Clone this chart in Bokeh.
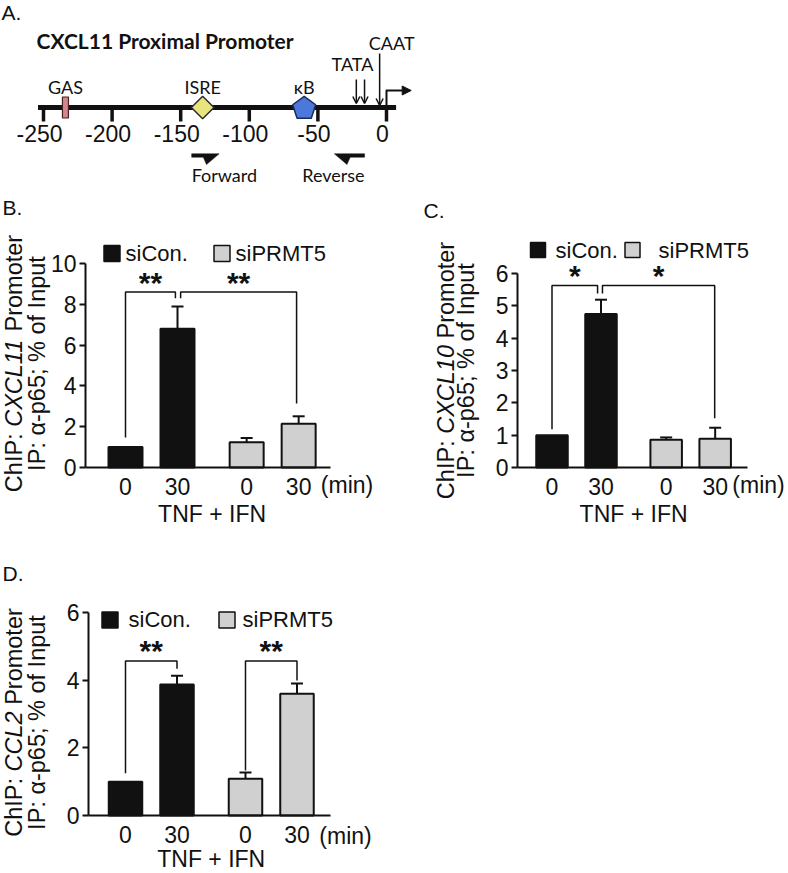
from math import pi, cos, sin
from bokeh.plotting import figure
from bokeh.models import (Range1d, FixedTicker, Label, ColumnDataSource, Whisker,
                          TeeHead, Arrow, OpenHead, NormalHead)
from bokeh.layouts import column, row
from bokeh.core.properties import value
from bokeh.embed import file_html
from bokeh.resources import INLINE

# ---------------- data ----------------
# Panel A: CXCL11 proximal promoter map (positions in bp relative to TSS)
promoter_ticks = [-250, -200, -150, -100, -50, 0]
promoter_tick_labels = ["-250", "-200", "-150", "-100", "-50", "0"]
promoter_extent = [-254, 7]
site_names = ["GAS", "ISRE", "κB"]
site_pos = [-234, -134, -60]
tata_pos = [-22, -16]
caat_pos = [-5]
tss_pos = 0
tss_arrow_end = 18
forward_primer = [-142, -122]
reverse_primer = [-38, -16]

# Panels B-D: ChIP alpha-p65
groups = ["siCon.", "siPRMT5"]
time_labels = ["0", "30", "0", "30"]
x_sicon = [1.0, 2.0]
x_siprmt5 = [3.33, 4.33]

b_sicon = [1.0, 6.80]
b_sicon_err = [0.0, 1.09]
b_siprmt5 = [1.24, 2.14]
b_siprmt5_err = [0.21, 0.37]
b_yticks = [0, 2, 4, 6, 8, 10]
# (x_left, y_left_end, x_right, y_right_end, y_top, label)
b_brackets = [(1.0, 1.47, 1.96, 8.30, 8.60, "**"),
              (2.06, 8.30, 4.29, 3.14, 8.60, "**")]

c_sicon = [1.0, 4.75]
c_sicon_err = [0.0, 0.44]
c_siprmt5 = [0.86, 0.89]
c_siprmt5_err = [0.07, 0.34]
c_yticks = [0, 1, 2, 3, 4, 5, 6]
c_brackets = [(1.0, 1.18, 1.93, 5.38, 5.63, "*"),
              (2.03, 5.38, 4.32, 1.52, 5.63, "*")]

d_sicon = [1.0, 3.87]
d_sicon_err = [0.0, 0.26]
d_siprmt5 = [1.09, 3.60]
d_siprmt5_err = [0.18, 0.30]
d_yticks = [0, 2, 4, 6]
d_brackets = [(1.0, 1.25, 2.0, 4.34, 4.57, "**"),
              (3.33, 1.33, 4.33, 3.99, 4.57, "**")]

# ---------------- style ----------------
FONT = "Liberation Sans"
DFONT = "Lato"
GRAY = "#d0d0d0"
INK = "#111111"

AW = {'C': 722, 'h': 556, 'I': 278, 'P': 667, ':': 278, ' ': 278, 'X': 667, 'L': 556,
      '1': 556, '0': 556, '2': 556, 'r': 333, 'o': 556, 'm': 833, 't': 278, 'e': 556,
      'α': 578, '-': 333, 'p': 556, '6': 556, '5': 556, ';': 278, '%': 889, 'f': 278,
      'n': 556, 'u': 556}


def text_w(s, fs):
    return sum(AW.get(ch, 556) for ch in s) * fs / 1000.0


# ---------------- panel A ----------------
A_ORIGIN = 386.0
A_SCALE = 1.372


def bpx(rx):
    return (rx - A_ORIGIN) / A_SCALE


LY = 107
pA = figure(width=788, height=190, x_range=Range1d(bpx(0), bpx(788)),
            y_range=Range1d(190, 0), x_axis_type=None, y_axis_type=None,
            min_border=0, output_backend="svg", toolbar_location=None, title=None)
pA.outline_line_color = None

pA.segment(x0=[promoter_extent[0]], y0=[LY], x1=[promoter_extent[1]], y1=[LY],
           line_width=5, line_color=INK)
pA.segment(x0=promoter_ticks, y0=[LY] * len(promoter_ticks), x1=promoter_ticks,
           y1=[121] * len(promoter_ticks), line_width=3.5, line_color=INK)
pA.text(x=promoter_ticks, y=[133] * len(promoter_ticks), text=promoter_tick_labels,
        text_align="center", text_baseline="middle", text_font=value(FONT),
        text_font_size="23px", text_color=INK, x_offset=-4)

# GAS
pA.rect(x=[site_pos[0]], y=[LY], width=6, height=21, width_units="screen",
        height_units="screen", fill_color="#d4868c", line_color="#4a2020", line_width=1.2)
# ISRE
pA.scatter(x=[site_pos[1]], y=[LY], marker="square", angle=pi / 4, size=16,
           fill_color="#e9e57c", line_color="#2b2b2b", line_width=1.5)
# kB pentagon
r_pent = 12.1
pent_x = [site_pos[2] + r_pent * cos(-pi / 2 + 2 * pi * i / 5) / A_SCALE for i in range(5)]
pent_y = [LY + 1 + r_pent * sin(-pi / 2 + 2 * pi * i / 5) for i in range(5)]
pA.patch(pent_x, pent_y, fill_color="#4b78da", line_color="#1b2a55", line_width=1.5)

pA.text(x=site_pos, y=[86] * 3, text=site_names, text_align="center",
        text_baseline="middle", text_font=value(DFONT), text_font_size="18px",
        text_color=INK)

# TATA / CAAT arrows
arr_src = ColumnDataSource(dict(xs=tata_pos + caat_pos, ys=[79, 79, 53],
                                xe=tata_pos + caat_pos, ye=[103, 103, 105]))
pA.add_layout(Arrow(end=OpenHead(size=7, line_width=1.5, line_color=INK),
                    x_start="xs", y_start="ys", x_end="xe", y_end="ye",
                    source=arr_src, line_width=1.5, line_color=INK))
pA.text(x=[sum(tata_pos) / len(tata_pos)], y=[63], text=["TATA"], x_offset=-8,
        text_align="center", text_baseline="middle", text_font=value(DFONT),
        text_font_size="18px", text_color=INK)
pA.text(x=caat_pos, y=[42], text=["CAAT"], x_offset=12,
        text_align="center", text_baseline="middle", text_font=value(DFONT),
        text_font_size="18px", text_color=INK)

# TSS bent arrow
pA.segment(x0=[tss_pos], y0=[LY], x1=[tss_pos], y1=[90], line_width=2, line_color=INK)
pA.add_layout(Arrow(end=NormalHead(size=9, fill_color=INK, line_color=INK),
                    x_start=tss_pos - 0.5, y_start=90, x_end=tss_arrow_end, y_end=90,
                    line_width=2, line_color=INK))

# primers
k = 1.0 / A_SCALE
fs_, fe_ = forward_primer
rs_, re_ = reverse_primer
fxs = [fs_, fe_, fe_ - 12.6 * k, fe_ - 15.8 * k, fs_]
fys = [153.3, 153.3, 164, 156.7, 156.7]
rxs = [rs_, re_, re_, rs_ + 15.8 * k, rs_ + 12.6 * k]
rys = [153.3, 153.3, 156.7, 156.7, 164]
pA.patches(xs=[fxs, rxs], ys=[fys, rys], fill_color=INK, line_color=INK, line_width=0.5)
pA.text(x=[forward_primer[0]], y=[174], text=["Forward"], text_align="left",
        text_baseline="middle", text_font=value(DFONT), text_font_size="18px",
        text_color=INK)
pA.text(x=[reverse_primer[1]], y=[174], text=["Reverse"], text_align="right",
        text_baseline="middle", text_font=value(DFONT), text_font_size="18px",
        text_color=INK)

pA.add_layout(Label(x=bpx(36), y=40, text="CXCL11 Proximal Promoter",
                    text_font=DFONT, text_font_style="bold", text_font_size="21px",
                    text_baseline="middle", text_color=INK))
pA.add_layout(Label(x=bpx(1), y=12, text="A.", text_font=FONT, text_font_size="21px",
                    text_baseline="middle", text_color=INK))


# ---------------- bar panels ----------------
def bar_panel(G, sicon, sicon_err, siprmt5, siprmt5_err, yticks, brackets, gene, letter):
    ox, oy = G["origin"]

    def xd(rx):
        return 1 + (rx - G["x1"]) / G["xs"]

    def yd(ry):
        return (G["y0"] - ry) / G["ys"]

    p = figure(width=G["w"], height=G["h"],
               x_range=Range1d(xd(ox), xd(ox + G["w"])),
               y_range=Range1d(yd(oy + G["h"]), yd(oy)),
               min_border=0, output_backend="svg", toolbar_location=None, title=None)
    p.outline_line_color = None
    p.xgrid.visible = False
    p.ygrid.visible = False

    yax = p.yaxis[0]
    yax.fixed_location = xd(G["axis_x"])
    yax.ticker = FixedTicker(ticks=yticks)
    yax.bounds = (0, yticks[-1])
    yax.axis_line_width = 2
    yax.axis_line_color = INK
    yax.major_tick_line_width = 2
    yax.major_tick_line_color = INK
    yax.major_tick_out = 6
    yax.major_tick_in = 0
    yax.minor_tick_out = 0
    yax.minor_tick_in = 0
    yax.major_label_standoff = 3
    yax.major_label_text_font = FONT
    yax.major_label_text_font_size = "23px"
    yax.major_label_text_color = INK

    xs_all = x_sicon + x_siprmt5
    xax = p.xaxis[0]
    xax.fixed_location = 0
    xax.ticker = FixedTicker(ticks=xs_all)
    xax.major_label_overrides = {x: t for x, t in zip(xs_all, time_labels)}
    xax.bounds = (xd(G["axis_x"]), xd(G["axis_end"]))
    xax.axis_line_width = 2
    xax.axis_line_color = INK
    xax.major_tick_out = 0
    xax.major_tick_in = 0
    xax.minor_tick_out = 0
    xax.minor_tick_in = 0
    xax.major_label_standoff = 10
    xax.major_label_text_font = FONT
    xax.major_label_text_font_size = "23px"
    xax.major_label_text_color = INK

    bw = (G["bar_px"] - 2) / G["xs"]
    s1 = ColumnDataSource(dict(x=x_sicon, top=sicon))
    s2 = ColumnDataSource(dict(x=x_siprmt5, top=siprmt5))
    p.vbar(x="x", top="top", width=bw, source=s1, fill_color=INK, line_color=INK,
           line_width=2)
    p.vbar(x="x", top="top", width=bw, source=s2, fill_color=GRAY, line_color=INK,
           line_width=2)

    base, lo, up = [], [], []
    for x, t, e in zip(xs_all, sicon + siprmt5, sicon_err + siprmt5_err):
        if e > 0:
            base.append(x)
            lo.append(t)
            up.append(t + e)
    p.add_layout(Whisker(source=ColumnDataSource(dict(base=base, lower=lo, upper=up)),
                         base="base", lower="lower", upper="upper", dimension="height",
                         line_width=2, line_color=INK, lower_head=None,
                         upper_head=TeeHead(size=12, line_width=2, line_color=INK)))

    p.multi_line(xs=[[b[0], b[0], b[2], b[2]] for b in brackets],
                 ys=[[b[1], b[4], b[4], b[3]] for b in brackets],
                 line_color=INK, line_width=1.5)
    p.text(x=[(b[0] + b[2]) / 2 for b in brackets], y=[b[4] for b in brackets],
           text=[b[5] for b in brackets], text_align="center",
           text_baseline="alphabetic", text_font=value(FONT), text_font_size="30px",
           text_font_style="bold", y_offset=-10, text_color=INK)

    # legend
    L = G["legend"]
    p.scatter(x=[xd(L["sq"][0][0]), xd(L["sq"][1][0])],
              y=[yd(L["sq"][0][1]), yd(L["sq"][1][1])], marker="square", size=L["size"],
              fill_color=[INK, GRAY], line_color=INK, line_width=1.5)
    p.text(x=[xd(L["tx"][0]), xd(L["tx"][1])], y=[yd(L["ty"])] * 2, text=groups,
           text_align="left", text_baseline="middle", text_font=value(FONT),
           text_font_size="22px", text_color=INK)

    # unit and treatment labels
    p.add_layout(Label(x=xd(G["min_x"]), y=yd(G["tick_mid"]), text="(min)",
                       text_align="center", text_baseline="middle", text_font=FONT,
                       text_font_size="23px", text_color=INK))
    p.add_layout(Label(x=(x_sicon[0] + x_siprmt5[-1]) / 2, y=yd(G["tnf_mid"]),
                       text="TNF + IFN", text_align="center", text_baseline="middle",
                       text_font=FONT, text_font_size="23px", text_color=INK))
    p.add_layout(Label(x=xd(G["letter"][0]), y=yd(G["letter"][1]), text=letter,
                       text_align="left", text_baseline="middle", text_font=FONT,
                       text_font_size="21px", text_color=INK))

    # rotated two-line y label
    fs = G["ylab_fs"]
    lines = [(G["ylab_x"][0], [("ChIP:", "normal", "ChIP: "), (gene, "italic", gene + " "),
                               ("Promoter", "normal", "Promoter")]),
             (G["ylab_x"][1], [("IP: α-p65; % of Input", "normal", "IP: α-p65; % of Input")])]
    for cx, parts in lines:
        total = sum(text_w(a, fs) for _, _, a in parts)
        ry = G["ylab_cy"] + total / 2
        for t, st, a in parts:
            p.add_layout(Label(x=xd(cx), y=yd(ry), text=t, angle=pi / 2,
                               text_align="left", text_baseline="middle", text_font=FONT,
                               text_font_size=f"{fs}px", text_font_style=st,
                               text_color=INK))
            ry -= text_w(a, fs)
    return p


GB = dict(origin=(0, 190), w=420, h=350, axis_x=85,
          y0=467, ys=20.4, x1=125, xs=52, axis_end=330, bar_px=36,
          legend=dict(sq=[(111.5, 253), (221.5, 253)], size=16, tx=[125, 235], ty=253),
          min_x=346.5, tick_mid=484.5, tnf_mid=513.5, letter=(2, 207),
          ylab_x=(13.5, 36), ylab_cy=363, ylab_fs=23.5)
GC = dict(origin=(420, 190), w=368, h=350, axis_x=517,
          y0=467, ys=32.33, x1=551.5, xs=49, axis_end=747, bar_px=33.5,
          legend=dict(sq=[(537.5, 249.5), (632, 249.5)], size=15, tx=[555, 658], ty=250),
          min_x=758, tick_mid=484.5, tnf_mid=513.5, letter=(423, 210),
          ylab_x=(445.5, 465), ylab_cy=370, ylab_fs=23.5)
GD = dict(origin=(0, 540), w=420, h=333, axis_x=88,
          y0=815, ys=33.83, x1=125, xs=51.5, axis_end=330, bar_px=35.5,
          legend=dict(sq=[(109.5, 619.5), (226.5, 619.5)], size=16, tx=[128, 242], ty=619),
          min_x=345, tick_mid=835, tnf_mid=858, letter=(2, 573),
          ylab_x=(13.5, 36), ylab_cy=722, ylab_fs=23.5)

pB = bar_panel(GB, b_sicon, b_sicon_err, b_siprmt5, b_siprmt5_err, b_yticks, b_brackets,
               "CXCL11", "B.")
pC = bar_panel(GC, c_sicon, c_sicon_err, c_siprmt5, c_siprmt5_err, c_yticks, c_brackets,
               "CXCL10", "C.")
pD = bar_panel(GD, d_sicon, d_sicon_err, d_siprmt5, d_siprmt5_err, d_yticks, d_brackets,
               "CCL2", "D.")

layout = column(pA, row(pB, pC), pD)
open("out.html", "w").write(file_html(layout, INLINE))
